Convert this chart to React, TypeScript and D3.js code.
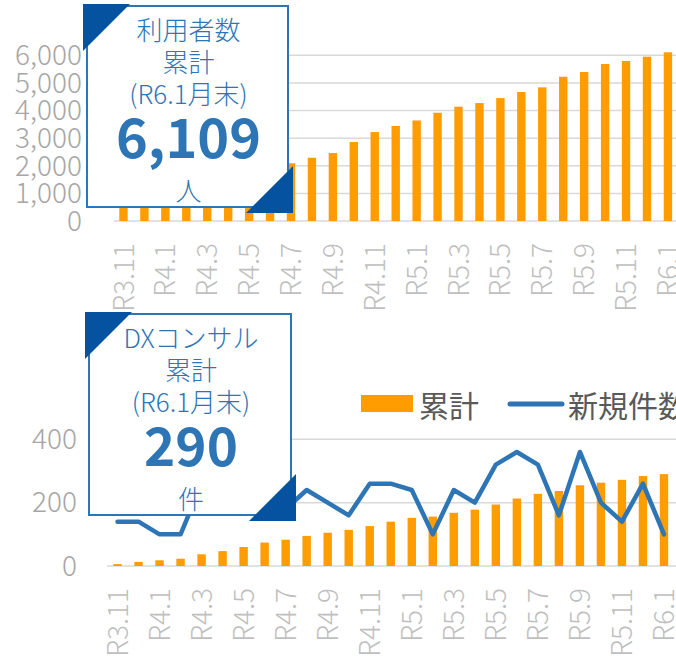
import React, { useRef, useEffect } from 'react';
import { select, scaleBand, scaleLinear, line } from 'd3';

// months shown on both charts (R3.11 .. R6.1)
const months = [
  'R3.11', 'R3.12', 'R4.1', 'R4.2', 'R4.3', 'R4.4', 'R4.5', 'R4.6', 'R4.7',
  'R4.8', 'R4.9', 'R4.10', 'R4.11', 'R4.12', 'R5.1', 'R5.2', 'R5.3', 'R5.4',
  'R5.5', 'R5.6', 'R5.7', 'R5.8', 'R5.9', 'R5.10', 'R5.11', 'R5.12', 'R6.1',
];

// 利用者数 累計
const users = [
  480, 700, 900, 1100, 1300, 1500, 1700, 1890, 2090, 2290, 2460, 2860, 3220,
  3440, 3640, 3920, 4140, 4270, 4450, 4670, 4840, 5225, 5395, 5685, 5795, 5950, 6109,
];

// DXコンサル 累計 / 新規件数
const dxTotal = [
  6, 13, 18, 23, 37, 47, 60, 74, 83, 95, 105, 114, 126, 140, 152, 156, 168,
  178, 194, 213, 228, 237, 255, 263, 272, 284, 290,
];
const dxNew = [
  140, 140, 100, 100, 260, 200, 220, 160, 180, 240, 200, 160, 260, 260, 240,
  100, 240, 200, 320, 360, 320, 160, 360, 200, 140, 260, 100,
];

const userTicks = [0, 1000, 2000, 3000, 4000, 5000, 6000];
const dxTicks = [0, 200, 400];

const ORANGE = '#ff9c00';
const BLUE = '#2e75b6';
const DARK_BLUE = '#0553a0';
const GRID = '#d9d9d9';
const FONT = '"Noto Sans CJK JP", "Noto Sans", sans-serif';

function drawBox(svg, x, y, w, h, lines, big, bigSize, unit) {
  const g = svg.append('g');
  g.append('rect')
    .attr('x', x).attr('y', y).attr('width', w).attr('height', h)
    .attr('fill', 'white').attr('stroke', BLUE).attr('stroke-width', 2);
  const t = 47;
  g.append('path')
    .attr('d', `M${x - 4},${y - 2}h${t}L${x - 4},${y - 2 + t}Z`)
    .attr('fill', DARK_BLUE);
  g.append('path')
    .attr('d', `M${x + w + 5},${y + h + 6}h${-t}L${x + w + 5},${y + h + 6 - t}Z`)
    .attr('fill', DARK_BLUE);
  const cx = x + w / 2 + 1;
  lines.forEach((s, i) => {
    g.append('text')
      .attr('x', cx).attr('y', y + 22 + i * 32)
      .attr('dominant-baseline', 'central')
      .attr('text-anchor', 'middle')
      .style('font-family', FONT).style('font-size', '26px')
      .style('font-weight', 300)
      .style('fill', BLUE)
      .text(s);
  });
  g.append('text')
    .attr('x', cx).attr('y', y + 152)
    .attr('text-anchor', 'middle')
    .style('font-family', FONT).style('font-size', `${bigSize}px`)
    .style('font-weight', 'bold')
    .style('fill', BLUE)
    .text(big);
  g.append('text')
    .attr('x', cx).attr('y', y + 183)
    .attr('dominant-baseline', 'central')
    .attr('text-anchor', 'middle')
    .style('font-family', FONT).style('font-size', '26px')
    .style('font-weight', 300)
    .style('fill', BLUE)
    .text(unit);
}

function drawAxes(svg, xScale, yScale, ticks, gridX0, labelX, labelY) {
  svg.append('g')
    .selectAll('line')
    .data(ticks)
    .join('line')
    .attr('x1', gridX0).attr('x2', 676)
    .attr('y1', d => yScale(d)).attr('y2', d => yScale(d))
    .attr('stroke', GRID).attr('stroke-width', 1.5);

  svg.append('g')
    .selectAll('text')
    .data(ticks)
    .join('text')
    .attr('x', labelX).attr('y', d => yScale(d))
    .attr('dy', '0.35em')
    .attr('text-anchor', 'end')
    .style('font-family', FONT).style('font-size', '28px')
    .style('font-weight', 300)
    .style('fill', '#a6a6a6')
    .text(d => d.toLocaleString('en-US'));

  svg.append('g')
    .selectAll('text')
    .data(months.filter((m, i) => i % 2 === 0))
    .join('text')
    .attr('transform', d => `translate(${xScale(d) + xScale.bandwidth() / 2},${labelY})rotate(-90)`)
    .attr('dy', '0.36em')
    .attr('text-anchor', 'end')
    .style('font-family', FONT).style('font-size', '28px')
    .style('font-weight', 300)
    .style('fill', '#bfbfbf')
    .text(d => d);
}

function App() {
  const svgRef = useRef();

  useEffect(() => {
    const svg = select(svgRef.current);
    svg.selectAll('*').remove();

    // ---- top: 利用者数
    const xTop = scaleBand().domain(months).range([113, 678.4])
      .paddingInner(0.6).paddingOuter(0.3);
    const yTop = scaleLinear().domain([0, 6000]).range([221, 55.3]);

    drawAxes(svg, xTop, yTop, userTicks, 114, 82, 243);

    svg.append('g')
      .selectAll('rect')
      .data(users)
      .join('rect')
      .attr('x', (d, i) => xTop(months[i]))
      .attr('width', xTop.bandwidth())
      .attr('y', d => yTop(d))
      .attr('height', d => yTop(0) - yTop(d))
      .attr('fill', ORANGE);

    drawBox(svg, 87, 6, 201, 201, ['利用者数', '累計', '(R6.1月末)'], '6,109', 54, '人');

    // ---- bottom: DXコンサル
    const xBot = scaleBand().domain(months).range([107, 674.5])
      .paddingInner(0.6).paddingOuter(0.3);
    const yBot = scaleLinear().domain([0, 400]).range([566, 439.3]);

    drawAxes(svg, xBot, yBot, dxTicks, 107, 77, 588);

    svg.append('g')
      .selectAll('rect')
      .data(dxTotal)
      .join('rect')
      .attr('x', (d, i) => xBot(months[i]))
      .attr('width', xBot.bandwidth())
      .attr('y', d => yBot(d))
      .attr('height', d => yBot(0) - yBot(d))
      .attr('fill', ORANGE);

    const newLine = line()
      .x((d, i) => xBot(months[i]) + xBot.bandwidth() / 2)
      .y(d => yBot(d));

    svg.append('path')
      .datum(dxNew)
      .attr('d', newLine)
      .attr('fill', 'none')
      .attr('stroke', BLUE)
      .attr('stroke-width', 4.5)
      .attr('stroke-linejoin', 'round')
      .attr('stroke-linecap', 'round');

    drawBox(svg, 89, 314, 202, 201, ['DXコンサル', '累計', '(R6.1月末)'], '290', 53, '件');

    // legend
    const lg = svg.append('g');
    lg.append('rect')
      .attr('x', 361).attr('y', 395).attr('width', 52).attr('height', 17)
      .attr('fill', ORANGE);
    lg.append('text')
      .attr('x', 419).attr('y', 404)
      .attr('dominant-baseline', 'central')
      .style('font-family', FONT).style('font-size', '30px')
      .style('fill', '#595959')
      .text('累計');
    lg.append('line')
      .attr('x1', 510).attr('x2', 562).attr('y1', 404).attr('y2', 404)
      .attr('stroke', BLUE).attr('stroke-width', 5)
      .attr('stroke-linecap', 'round');
    lg.append('text')
      .attr('x', 568).attr('y', 404)
      .attr('dominant-baseline', 'central')
      .style('font-family', FONT).style('font-size', '30px')
      .style('fill', '#595959')
      .text('新規件数');
  }, []);

  return (
    <svg
      ref={svgRef}
      width={676}
      height={661}
      style={{ position: 'absolute', left: 0, top: 0, background: 'white' }}
    />
  );
}

export default App;
